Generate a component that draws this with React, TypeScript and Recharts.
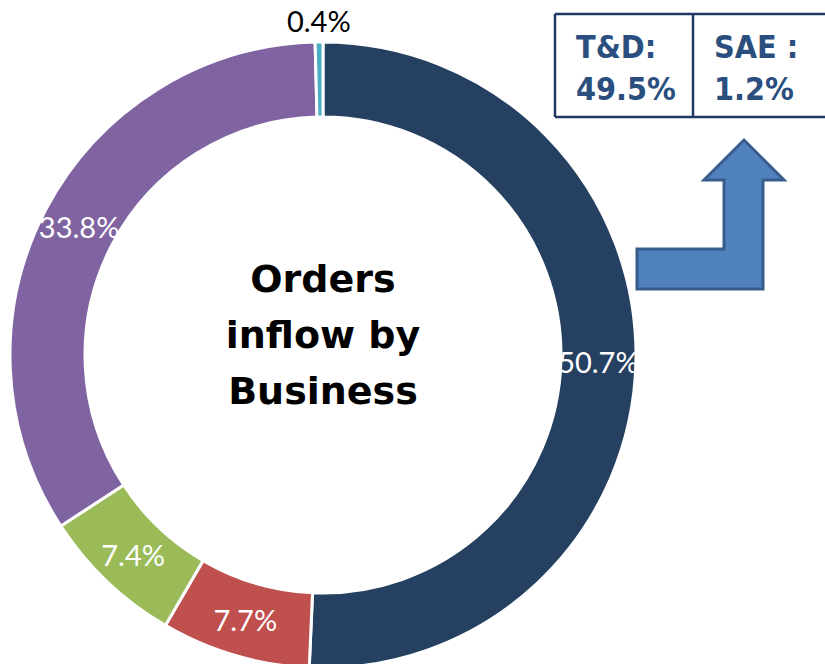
import { PieChart, Pie, Cell } from "recharts";

const businesses = ["Segment A", "Segment B", "Segment C", "Segment D", "Segment E"];
const shares = [50.7, 7.7, 7.4, 33.8, 0.4];
const colors = ["#264061", "#C0504D", "#9BBB59", "#8064A2", "#4BACC6"];
const centerLines = ["Orders", "inflow by", "Business"];
const boxItems = [
  { title: "T&D:", value: "49.5%" },
  { title: "SAE :", value: "1.2%" },
];

const data = businesses.map((name, i) => ({ name, value: shares[i] }));

const RADIAN = Math.PI / 180;

const renderLabel = (props: any) => {
  const { cx, cy, midAngle, innerRadius, outerRadius, value } = props;
  const outside = value < 1;
  const r = outside ? outerRadius + 22 : (innerRadius + outerRadius) / 2;
  const x = cx + r * Math.cos(-midAngle * RADIAN);
  const y = cy + r * Math.sin(-midAngle * RADIAN);
  return (
    <text
      x={x}
      y={y}
      fill={outside ? "#000" : "#fff"}
      textAnchor="middle"
      dominantBaseline="central"
      fontFamily="Lato, sans-serif"
      fontSize={29}
    >
      {value.toFixed(1)}%
    </text>
  );
};

const App = () => {
  return (
    <div style={{ position: "absolute", left: 0, top: 0, width: 825, height: 664, background: "#fff" }}>
      <PieChart width={825} height={664} margin={{ top: 0, right: 0, bottom: 0, left: 0 }}>
        <Pie
          data={data}
          dataKey="value"
          cx={323}
          cy={355}
          innerRadius={238}
          outerRadius={313}
          startAngle={90}
          endAngle={-270}
          stroke="#fff"
          strokeWidth={3}
          label={renderLabel}
          labelLine={false}
          isAnimationActive={false}
        >
          {data.map((d, i) => (
            <Cell key={d.name} fill={colors[i]} />
          ))}
        </Pie>
      </PieChart>
      <svg width={825} height={664} style={{ position: "absolute", left: 0, top: 0 }}>
        {centerLines.map((line, i) => (
          <text
            key={line}
            x={323}
            y={292 + i * 56}
            textAnchor="middle"
            fontFamily="DejaVu Sans, sans-serif"
            fontWeight="bold"
            fontSize={38}
            fill="#000"
          >
            {line}
          </text>
        ))}
        <path d="M555 14 H825 M555 117 H825 M555 14 V117 M693 14 V117" stroke="#1F3864" strokeWidth={2.5} fill="none" />
        {boxItems.map((b, i) => (
          <g key={b.title}>
            <text x={576 + i * 138} y={58} fontFamily="DejaVu Sans Condensed, DejaVu Sans, sans-serif" fontWeight="bold" fontSize={32} fill="#2A4F7E">
              {b.title}
            </text>
            <text x={576 + i * 138} y={100} fontFamily="DejaVu Sans Condensed, DejaVu Sans, sans-serif" fontWeight="bold" fontSize={32} fill="#2A4F7E">
              {b.value}
            </text>
          </g>
        ))}
        <polygon
          points="637,249 724,249 724,180 704,180 744,140 784,180 763,180 763,289 637,289"
          fill="#4F81BD"
          stroke="#385D8A"
          strokeWidth={3}
        />
      </svg>
    </div>
  );
};

export default App;
